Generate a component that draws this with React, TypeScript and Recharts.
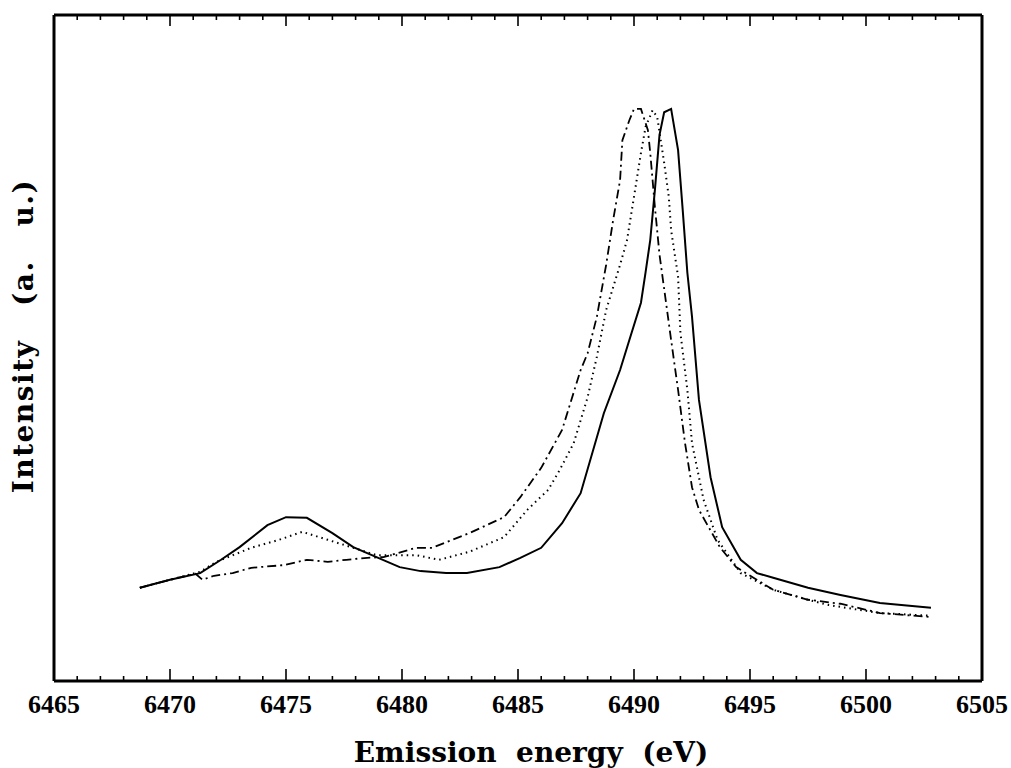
import { LineChart, Line, XAxis, YAxis, Label, ReferenceLine } from 'recharts';

// Emission energy (eV) and intensity (a.u.) for the three spectra
const solidEnergy = [
  6468.7, 6470.0, 6471.3, 6472.2, 6473.0, 6474.2, 6475.0, 6475.9, 6477.0, 6477.9, 6478.9, 6479.9, 6480.8,
  6481.9, 6482.8, 6484.2, 6485.1, 6486.0, 6486.9, 6487.7, 6488.7, 6489.4, 6489.8, 6490.3, 6490.5, 6490.7,
  6490.9, 6491.1, 6491.3, 6491.6, 6491.9, 6492.1, 6492.3, 6492.5, 6492.8, 6493.3, 6493.8, 6494.6, 6495.3,
  6496.0, 6497.5, 6498.9, 6500.6, 6502.8,
];
const solidIntensity = [
  14.0, 15.2, 16.2, 18.2, 20.1, 23.4, 24.6, 24.5, 22.2, 20.1, 18.6, 17.1, 16.5,
  16.2, 16.2, 17.1, 18.5, 20.0, 23.7, 28.2, 40.2, 46.7, 51.2, 56.8, 61.4, 66.2,
  73.7, 82.0, 85.4, 85.9, 79.7, 70.7, 61.3, 54.7, 42.2, 30.6, 23.1, 18.2, 16.2,
  15.5, 14.0, 12.9, 11.7, 11.0,
];

const dottedEnergy = [
  6468.7, 6470.0, 6471.3, 6472.0, 6473.5, 6474.7, 6475.7, 6476.8, 6477.9, 6478.9, 6480.6, 6481.6, 6482.9,
  6484.4, 6485.4, 6486.3, 6486.8, 6487.4, 6488.0, 6488.4, 6488.8, 6489.4, 6489.7, 6490.0, 6490.3, 6490.5,
  6490.8, 6491.0, 6491.3, 6491.5, 6491.6, 6491.9, 6492.0, 6492.3, 6492.5, 6493.0, 6493.6, 6494.6, 6496.0,
  6497.5, 6498.4, 6500.6, 6502.8,
];
const dottedIntensity = [
  14.0, 15.2, 16.4, 17.9, 20.0, 21.2, 22.4, 21.2, 20.0, 18.9, 18.9, 18.2, 19.4,
  21.6, 25.7, 28.7, 31.7, 35.7, 42.6, 48.7, 55.7, 62.5, 66.2, 72.7, 79.3, 83.2,
  85.7, 84.7, 77.8, 72.7, 67.7, 60.7, 52.3, 43.7, 35.7, 27.2, 21.2, 16.2, 13.7,
  12.2, 11.4, 10.2, 9.8,
];

const dashDotEnergy = [
  6468.7, 6470.0, 6471.1, 6471.4, 6471.9, 6472.7, 6473.5, 6474.9, 6475.9, 6476.8, 6477.6, 6478.5, 6479.2,
  6480.6, 6481.3, 6482.9, 6484.4, 6485.1, 6486.0, 6486.9, 6487.7, 6488.0, 6488.4, 6488.8, 6489.1, 6489.4,
  6489.5, 6489.8, 6490.0, 6490.3, 6490.6, 6490.7, 6490.9, 6491.1, 6491.6, 6491.9, 6492.2, 6492.5, 6492.8,
  6493.7, 6494.4, 6496.0, 6497.5, 6498.9, 6500.6, 6502.8,
];
const dashDotIntensity = [
  14.0, 15.2, 16.1, 15.2, 15.8, 16.2, 17.0, 17.4, 18.2, 17.9, 18.2, 18.5, 18.6,
  20.0, 20.0, 22.2, 24.6, 27.6, 32.0, 37.7, 46.7, 49.2, 54.7, 62.5, 69.2, 75.2,
  81.2, 84.2, 85.9, 85.9, 82.7, 79.3, 71.2, 64.0, 51.2, 43.7, 35.7, 29.1, 25.7,
  20.1, 17.1, 13.7, 12.2, 11.6, 10.2, 9.6,
];

// 1 eV minor ticks, labelled every 5 eV
const xTicks: number[] = [];
for (let e = 6465; e <= 6505; e++) xTicks.push(e);

const toRows = (es: number[], vs: number[]) => es.map((e, i) => ({ e, v: vs[i] }));
const solidData = toRows(solidEnergy, solidIntensity);
const dottedData = toRows(dottedEnergy, dottedIntensity);
const dashDotData = toRows(dashDotEnergy, dashDotIntensity);

const SERIF = '"Liberation Serif", serif';
const TITLE_FONT = '"DejaVu Serif", serif';

function BottomLabel({ x, y, payload }: any) {
  if (payload.value % 5 !== 0) return <g />;
  return (
    <text x={x} y={y + 32} textAnchor="middle" fontFamily={SERIF} fontWeight="bold" fontSize={26} fill="#000">
      {payload.value}
    </text>
  );
}

// inward tick marks on the bottom and top edges of the frame
function TickMarks({ x1, y1, y2, major }: any) {
  const top = Math.min(y1, y2);
  const bottom = Math.max(y1, y2);
  return (
    <g>
      <line x1={x1} x2={x1} y1={bottom} y2={bottom - (major ? 12 : 5)} stroke="#000" strokeWidth={1.6} />
      <line x1={x1} x2={x1} y1={top} y2={top + (major ? 11 : 5)} stroke="#000" strokeWidth={1.6} />
    </g>
  );
}

export default function App() {
  return (
    <div style={{ position: 'absolute', left: 0, top: 0, background: '#fff' }}>
      <LineChart width={1011} height={768} margin={{ top: 15, right: 0, bottom: 0, left: 0 }}>
        <XAxis
          dataKey="e"
          type="number"
          domain={[6465, 6505]}
          ticks={xTicks}
          interval={0}
          allowDataOverflow
          height={87}
          tickSize={0}
          tickMargin={0}
          tickLine={false}
          tick={<BottomLabel />}
          axisLine={{ stroke: '#000', strokeWidth: 3 }}
        >
          <Label
            content={() => (
              <text x={531} y={762} textAnchor="middle" fontFamily={TITLE_FONT} fontWeight="bold" fontSize={28} fill="#000">
                {'Emission\u00a0\u00a0energy\u00a0\u00a0(eV)'}
              </text>
            )}
          />
        </XAxis>
        <YAxis
          type="number"
          domain={[0, 100]}
          allowDataOverflow
          width={54}
          tick={false}
          tickLine={false}
          axisLine={{ stroke: '#000', strokeWidth: 3 }}
        >
          <Label
            content={() => (
              <text
                transform="translate(23, 336) rotate(-90)"
                textAnchor="middle"
                dominantBaseline="central"
                fontFamily={TITLE_FONT}
                fontWeight="bold"
                fontSize={28}
                letterSpacing={1.5}
                fill="#000"
              >
                {'Intensity\u00a0\u00a0\u00a0(a.\u00a0\u00a0\u00a0u.)'}
              </text>
            )}
          />
        </YAxis>
        <YAxis
          yAxisId="right"
          orientation="right"
          type="number"
          domain={[0, 100]}
          width={29}
          tick={false}
          tickLine={false}
          axisLine={{ stroke: '#000', strokeWidth: 3 }}
        />
        <ReferenceLine y={100} stroke="#000" strokeWidth={3} />
        {xTicks.map((t) => (
          <ReferenceLine
            key={t}
            x={t}
            stroke="#000"
            shape={(p: any) => <TickMarks {...p} major={t % 5 === 0} />}
          />
        ))}
        <Line data={solidData} dataKey="v" type="linear" stroke="#000" strokeWidth={2} dot={false} isAnimationActive={false} />
        <Line
          data={dottedData}
          dataKey="v"
          type="linear"
          stroke="#000"
          strokeWidth={2}
          strokeDasharray="1.5 4"
          dot={false}
          isAnimationActive={false}
        />
        <Line
          data={dashDotData}
          dataKey="v"
          type="linear"
          stroke="#000"
          strokeWidth={1.8}
          strokeDasharray="9 4 2 4"
          dot={false}
          isAnimationActive={false}
        />
      </LineChart>
    </div>
  );
}
